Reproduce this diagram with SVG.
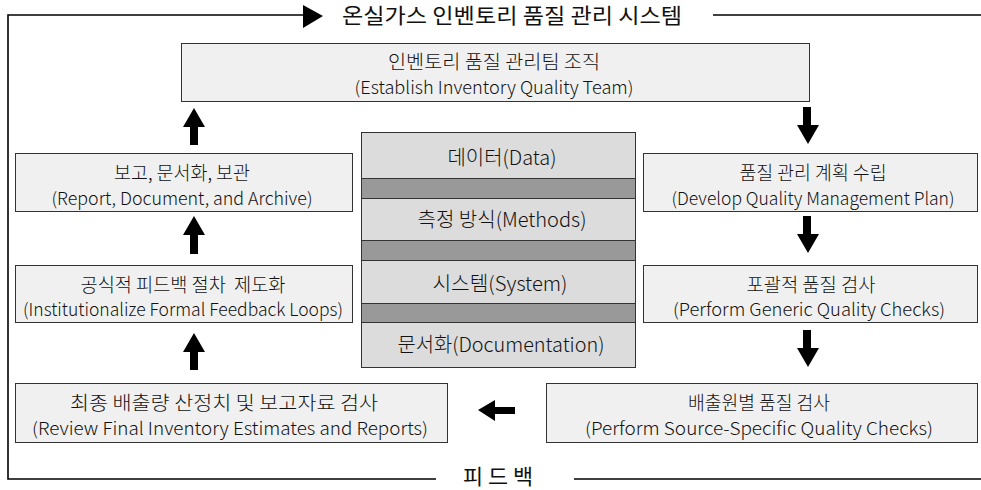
<svg xmlns="http://www.w3.org/2000/svg" width="981" height="490" viewBox="0 0 981 490">
<style>
.box{fill:#f0f0f0;stroke:#333;stroke-width:1}
.lt{fill:#dcdcdc;stroke:#333;stroke-width:1}
.dk{fill:#999;stroke:#333;stroke-width:1}
text{font-family:"Noto Sans CJK KR","Noto Sans",sans-serif;fill:#111;text-anchor:middle;font-weight:300}
.k{font-size:19px}
.e{font-size:17.5px}
.c{font-size:20px}
.h{font-size:21px;font-weight:400}
.ln{fill:none;stroke:#000;stroke-width:1.6}
.ar{fill:#000}
</style>
<rect width="981" height="490" fill="#fff"/>
<g id="frame">
<path class="ln" d="M304,15 H8 V479 H436"/>
<path class="ln" d="M713,15 H981"/>
<path class="ln" d="M574,479 H981"/>
<polygon class="ar" points="303,5 323,16 303,28"/>
<text id="title" class="h" x="512" y="23" textLength="340" lengthAdjust="spacingAndGlyphs">온실가스 인벤토리 품질 관리 시스템</text>
<text id="feedback" class="h" x="498" y="484" textLength="70" lengthAdjust="spacingAndGlyphs">피 드 백</text>
</g>
<g id="n-team">
<rect class="box" x="181.5" y="43.5" width="628" height="58"/>
<text class="k" x="494" y="69" textLength="212" lengthAdjust="spacingAndGlyphs">인벤토리 품질 관리팀 조직</text>
<text class="e" x="494" y="94" textLength="279" lengthAdjust="spacingAndGlyphs">(Establish Inventory Quality Team)</text>
</g>
<g id="n-report">
<rect class="box" x="15.5" y="153.5" width="337" height="58"/>
<text class="k" x="182" y="180" textLength="136" lengthAdjust="spacingAndGlyphs">보고, 문서화, 보관</text>
<text class="e" x="182" y="205" textLength="261" lengthAdjust="spacingAndGlyphs">(Report, Document, and Archive)</text>
</g>
<g id="n-feedback">
<rect class="box" x="15.5" y="265.5" width="337" height="57"/>
<text class="k" x="183" y="292" textLength="205" lengthAdjust="spacingAndGlyphs" style="white-space:pre" xml:space="preserve">공식적 피드백 절차  제도화</text>
<text class="e" x="183" y="316" textLength="320" lengthAdjust="spacingAndGlyphs">(Institutionalize Formal Feedback Loops)</text>
</g>
<g id="n-plan">
<rect class="box" x="643.5" y="153.5" width="334" height="58"/>
<text class="k" x="813" y="180" textLength="147" lengthAdjust="spacingAndGlyphs">품질 관리 계획 수립</text>
<text class="e" x="813" y="205" textLength="283" lengthAdjust="spacingAndGlyphs">(Develop Quality Management Plan)</text>
</g>
<g id="n-generic">
<rect class="box" x="643.5" y="265.5" width="334" height="57"/>
<text class="k" x="811" y="292" textLength="129" lengthAdjust="spacingAndGlyphs">포괄적 품질 검사</text>
<text class="e" x="809" y="316" textLength="272" lengthAdjust="spacingAndGlyphs">(Perform Generic Quality Checks)</text>
</g>
<g id="n-review">
<rect class="box" x="15.5" y="383.5" width="432" height="59"/>
<text class="k" x="224" y="410" textLength="308" lengthAdjust="spacingAndGlyphs">최종 배출량 산정치 및 보고자료 검사</text>
<text class="e" x="230" y="435" textLength="396" lengthAdjust="spacingAndGlyphs">(Review Final Inventory Estimates and Reports)</text>
</g>
<g id="n-source">
<rect class="box" x="546.5" y="383.5" width="431" height="59"/>
<text class="k" x="759" y="410" textLength="142" lengthAdjust="spacingAndGlyphs">배출원별 품질 검사</text>
<text class="e" x="759" y="435" textLength="348" lengthAdjust="spacingAndGlyphs">(Perform Source-Specific Quality Checks)</text>
</g>
<g id="n-stack">
<rect class="lt" x="361.5" y="132.5" width="274" height="46"/>
<rect class="dk" x="361.5" y="178.5" width="274" height="20"/>
<rect class="lt" x="361.5" y="198.5" width="274" height="42"/>
<rect class="dk" x="361.5" y="240.5" width="274" height="20"/>
<rect class="lt" x="361.5" y="260.5" width="274" height="43"/>
<rect class="dk" x="361.5" y="303.5" width="274" height="19"/>
<rect class="lt" x="361.5" y="322.5" width="274" height="45"/>
<text class="c" x="502" y="165" textLength="109" lengthAdjust="spacingAndGlyphs">데이터(Data)</text>
<text class="c" x="502" y="227" textLength="169" lengthAdjust="spacingAndGlyphs">측정 방식(Methods)</text>
<text class="c" x="500" y="291" textLength="135" lengthAdjust="spacingAndGlyphs">시스템(System)</text>
<text class="c" x="501" y="352" textLength="207" lengthAdjust="spacingAndGlyphs">문서화(Documentation)</text>
</g>
<g id="connectors">
<polygon class="ar" points="194,108 205,127 198,127 198,145 190,145 190,127 183,127"/>
<polygon class="ar" points="194,216 205,235 198,235 198,254 190,254 190,235 183,235"/>
<polygon class="ar" points="194,333 205,352 198,352 198,370 190,370 190,352 183,352"/>
<polygon class="ar" points="803,107 811,107 811,125 819,125 808,144 797,125 803,125"/>
<polygon class="ar" points="803,216 811,216 811,234 819,234 808,253 797,234 803,234"/>
<polygon class="ar" points="803,330 811,330 811,348 819,348 808,367 797,348 803,348"/>
<polygon class="ar" points="478,410 495,400 495,407 515,407 515,414 495,414 495,421"/>
</g>
</svg>
